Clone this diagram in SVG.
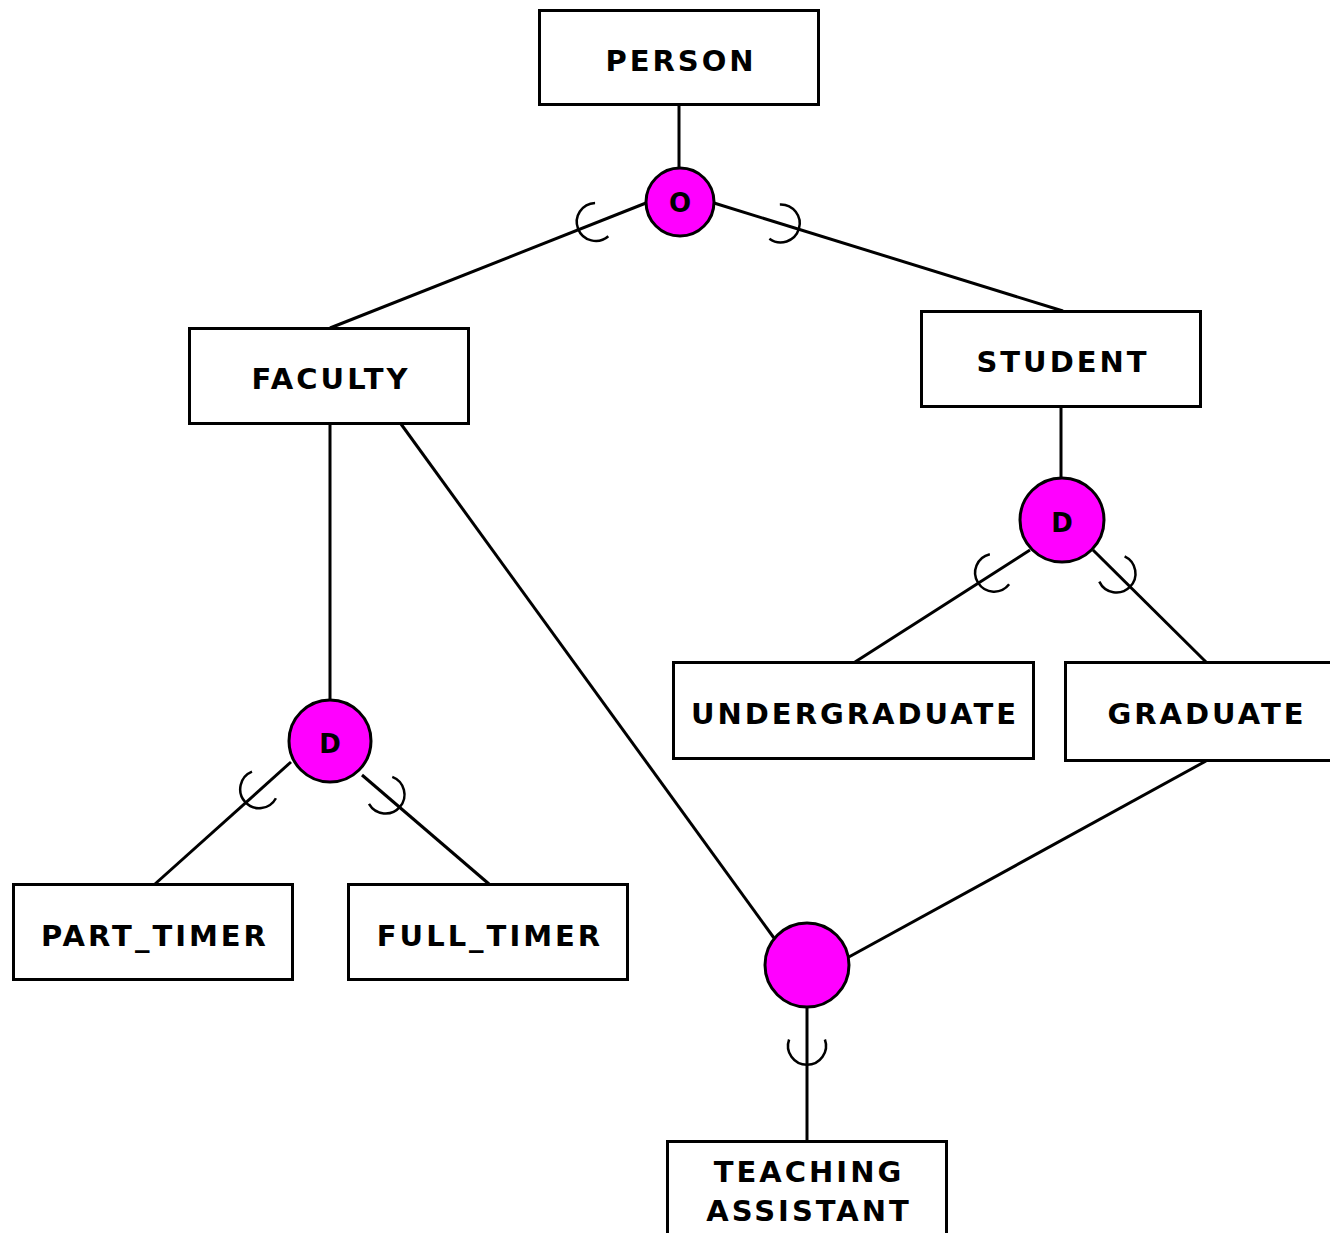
<svg xmlns="http://www.w3.org/2000/svg" width="1330" height="1233" viewBox="0 0 1330 1233">
  <style>
    .box { fill: #ffffff; stroke: #000000; stroke-width: 3; }
    .lbl { font-family: "DejaVu Sans", Verdana, sans-serif; font-weight: bold; font-size: 29px; letter-spacing: 3px; text-anchor: middle; fill: #000000; }
    .circ { fill: #ff00ff; stroke: #000000; stroke-width: 3; }
    .ctext { font-family: "DejaVu Sans", Verdana, sans-serif; font-weight: bold; font-size: 26px; text-anchor: middle; fill: #000000; }
    .ln { stroke: #000000; stroke-width: 3; fill: none; }
    .sub { stroke: #000000; stroke-width: 2.5; fill: none; }
  </style>
  <defs>
    <!-- subset mark: cup whose apex sits on the line, opening toward +x -->
    <path id="cup" d="M 25.5,-17.9 A 19 19 0 1 0 25.5,17.9"/>
  </defs>

  <g id="connectors">
    <line class="ln" x1="679" y1="105" x2="679" y2="168"/>
    <line class="ln" x1="646" y1="203" x2="330" y2="328"/>
    <line class="ln" x1="714" y1="203" x2="1063" y2="311"/>
    <line class="ln" x1="1061" y1="407" x2="1061" y2="479"/>
    <line class="ln" x1="1030" y1="550" x2="855" y2="662"/>
    <line class="ln" x1="1093" y1="550" x2="1206" y2="662"/>
    <line class="ln" x1="330" y1="424" x2="330" y2="700"/>
    <line class="ln" x1="291" y1="762" x2="155" y2="884"/>
    <line class="ln" x1="362" y1="775" x2="489" y2="884"/>
    <line class="ln" x1="401" y1="424" x2="774" y2="938"/>
    <line class="ln" x1="1206" y1="761" x2="847" y2="958"/>
    <line class="ln" x1="807" y1="1007" x2="807" y2="1141"/>
    <use href="#cup" class="sub" transform="translate(578,229) rotate(-21.7)"/>
    <use href="#cup" class="sub" transform="translate(799,229) rotate(197)"/>
    <use href="#cup" class="sub" transform="translate(978,583) rotate(-32.6)"/>
    <use href="#cup" class="sub" transform="translate(1130,587) rotate(225)"/>
    <use href="#cup" class="sub" transform="translate(245,802) rotate(-42)"/>
    <use href="#cup" class="sub" transform="translate(400,807) rotate(220.6)"/>
    <use href="#cup" class="sub" transform="translate(807,1065) rotate(-90)"/>
  </g>

  <g id="person">
    <rect class="box" x="539.5" y="10.5" width="279" height="94"/>
    <text class="lbl" x="681" y="71">PERSON</text>
  </g>
  <g id="overlap">
    <circle class="circ" cx="680" cy="202" r="34"/>
    <text class="ctext" x="680" y="212">O</text>
  </g>
  <g id="faculty">
    <rect class="box" x="189.5" y="328.5" width="279" height="95"/>
    <text class="lbl" x="331" y="389">FACULTY</text>
  </g>
  <g id="student">
    <rect class="box" x="921.5" y="311.5" width="279" height="95"/>
    <text class="lbl" x="1063" y="372">STUDENT</text>
  </g>
  <g id="student-disjoint">
    <circle class="circ" cx="1062" cy="520" r="42"/>
    <text class="ctext" x="1062" y="532">D</text>
  </g>
  <g id="undergraduate">
    <rect class="box" x="673.5" y="662.5" width="360" height="96"/>
    <text class="lbl" x="855" y="724">UNDERGRADUATE</text>
  </g>
  <g id="graduate">
    <rect class="box" x="1065.5" y="662.5" width="268" height="98"/>
    <text class="lbl" x="1207" y="724">GRADUATE</text>
  </g>
  <g id="faculty-disjoint">
    <circle class="circ" cx="330" cy="741" r="41"/>
    <text class="ctext" x="330" y="753">D</text>
  </g>
  <g id="part-timer">
    <rect class="box" x="13.5" y="884.5" width="279" height="95"/>
    <text class="lbl" x="155" y="946">PART_TIMER</text>
  </g>
  <g id="full-timer">
    <rect class="box" x="348.5" y="884.5" width="279" height="95"/>
    <text class="lbl" x="490" y="946">FULL_TIMER</text>
  </g>
  <g id="union">
    <circle class="circ" cx="807" cy="965" r="42"/>
  </g>
  <g id="teaching-assistant">
    <rect class="box" x="667.5" y="1141.5" width="279" height="100"/>
    <text class="lbl" x="809" y="1182">TEACHING</text>
    <text class="lbl" x="809" y="1221">ASSISTANT</text>
  </g>
</svg>
